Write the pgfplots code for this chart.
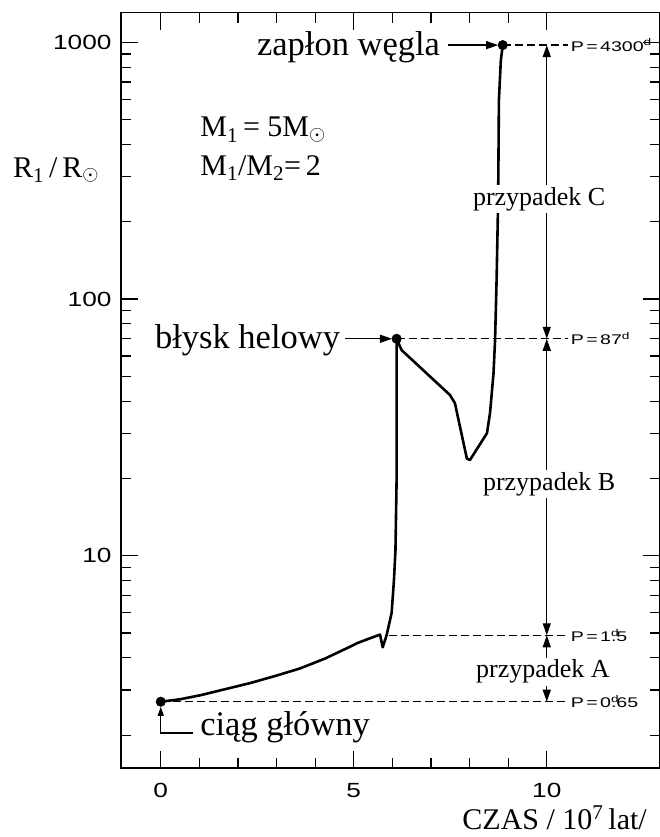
\documentclass[border=0pt]{standalone}
\usepackage{fontspec}
\setmainfont{Liberation Serif}
\newfontfamily\tickfont[FakeStretch=1.28]{Liberation Sans}
\newfontfamily\pfont[FakeStretch=1.4]{Liberation Sans}
\usepackage{pgfplots}
\pgfplotsset{compat=1.18}
\usetikzlibrary{arrows.meta}

\newcommand\fa{\fontsize{34.5}{38}\selectfont}
\newcommand\fm{\fontsize{30}{34}\selectfont}
\newcommand\fb{\fontsize{26}{30}\selectfont}
\newcommand\fp{\pfont\fontsize{14}{16}\selectfont}
\newcommand\ft{\tickfont\fontsize{20.5}{22}\selectfont}
\tikzset{tri/.tip={Triangle[length=12pt,width=8pt]},
         stri/.tip={Triangle[length=9pt,width=6pt]}}

\begin{document}
\begin{tikzpicture}
\begin{axis}[
  at={(0pt,0pt)}, anchor=south west,
  scale only axis, width=538.5pt, height=755.3pt,
  xmin=-1.03, xmax=12.92,
  ymode=log, ymin=1.49, ymax=1304,
  clip=false,
  axis line style={line width=1.6pt},
  /pgf/number format/assume math mode=true,
  xtick={0,5,10}, xticklabels={0,5,10},
  minor xtick={1,2,3,4,6,7,8,9},
  ytick={10,100,1000}, yticklabels={10,100,1000},
  minor ytick={2,3,4,5,6,7,8,9,20,30,40,50,60,70,80,90,200,300,400,500,600,700,800,900},
  tick style={black, line width=1.2pt},
  major tick length=17pt, minor tick length=10pt,
  tick align=inside,
  xticklabel style={font=\ft, yshift=-12pt},
  yticklabel style={font=\ft, xshift=-6pt},
]
% evolution of the primary's radius
\addplot[line width=2.6pt, line join=round] coordinates {
  (0,2.70) (0.50,2.76) (1.02,2.86) (2.31,3.19) (2.96,3.40) (3.61,3.64)
  (4.26,3.98) (4.90,4.42) (5.08,4.56) (5.34,4.72) (5.68,4.93) (5.75,4.40)
  (5.85,4.90) (5.98,5.98) (6.04,8.0) (6.08,10.5) (6.11,20) (6.11,70)
  (6.24,63.2) (7.49,42.3) (7.62,39.3) (7.93,23.9) (8.01,23.6) (8.45,30.0)
  (8.53,36.0) (8.62,51.4) (8.66,69.2) (8.70,118.6) (8.74,243) (8.76,596)
  (8.81,853) (8.86,975)
};
% characteristic points
\addplot[only marks, mark=*, mark size=4.8pt] coordinates {(0,2.7) (6.11,70) (8.86,975)};

% period levels
\begin{scope}[line width=1.4pt, dash pattern=on 8pt off 4pt]
\draw (axis cs:8.86,975) -- (axis cs:10.55,975);
\draw (axis cs:6.11,70) -- (axis cs:10.55,70);
\draw (axis cs:5.90,4.9) -- (axis cs:10.55,4.9);
\draw (axis cs:0,2.7) -- (axis cs:10.55,2.7);
\end{scope}

\draw[line width=1.4pt, tri-tri] (axis cs:10,975) -- (axis cs:10,70);
\draw[line width=1.4pt, tri-tri] (axis cs:10,70) -- (axis cs:10,4.9);
\draw[line width=1.4pt, tri-tri] (axis cs:10,4.9) -- (axis cs:10,2.7);

% pointers
\draw[line width=1.4pt, -tri] (axis cs:7.44,975) -- (axis cs:8.74,975);
\draw[line width=1.4pt, -tri] (axis cs:4.77,70) -- (axis cs:5.99,70);
\draw[line width=1.2pt, -stri] (axis cs:0.83,2.04) -- (axis cs:0,2.04) -- (axis cs:0,2.58);

% labels
\node[anchor=base east, font=\fa, inner sep=0pt] at (axis cs:7.24,891) {zapłon węgla};
\node[anchor=base east, font=\fa, inner sep=0pt] at (axis cs:4.65,64.4) {błysk helowy};
\node[anchor=base west, font=\fa, inner sep=0pt] at (axis cs:1.02,2.0) {ciąg główny};
\node[anchor=base west, font=\fm, inner sep=0pt] at (axis cs:1.02,428) {M\textsubscript{1}\,= 5M\textsubscript{$\odot$}};
\node[anchor=base west, font=\fm, inner sep=0pt] at (axis cs:1.02,304) {M\textsubscript{1}/M\textsubscript{2}=\,2};
\node[anchor=base west, font=\fm, inner sep=0pt] at (axis cs:-3.83,298) {R\textsubscript{1}\,/\,R\textsubscript{$\odot$}};
\node[anchor=base west, font=\fm, inner sep=0pt] at (axis cs:7.81,0.862) {CZAS / 10\textsuperscript{7}\,lat/};

\node[anchor=base, font=\fb, fill=white, inner sep=2pt] at (axis cs:9.80,232) {przypadek C};
\node[anchor=base, font=\fb, fill=white, inner sep=2pt] at (axis cs:10.06,18.0) {przypadek B};
\node[anchor=base, font=\fb, fill=white, inner sep=2pt] at (axis cs:9.90,3.34) {przypadek A};

\node[anchor=west, font=\fp, inner sep=0pt] at (axis cs:10.62,975) {P\,=\,4300\textsuperscript{d}};
\node[anchor=west, font=\fp, inner sep=0pt] at (axis cs:10.62,70) {P\,=\,87\textsuperscript{d}};
\node[anchor=west, font=\fp, inner sep=0pt] at (axis cs:10.62,4.9) {P\,=\,1\rlap{\textsuperscript{d}}.5};
\node[anchor=west, font=\fp, inner sep=0pt] at (axis cs:10.62,2.7) {P\,=\,0\rlap{\textsuperscript{d}}.65};
\end{axis}
\pgfresetboundingbox
\path[use as bounding box] (-121pt,-69pt) rectangle (538pt,768pt);
\end{tikzpicture}
\end{document}
